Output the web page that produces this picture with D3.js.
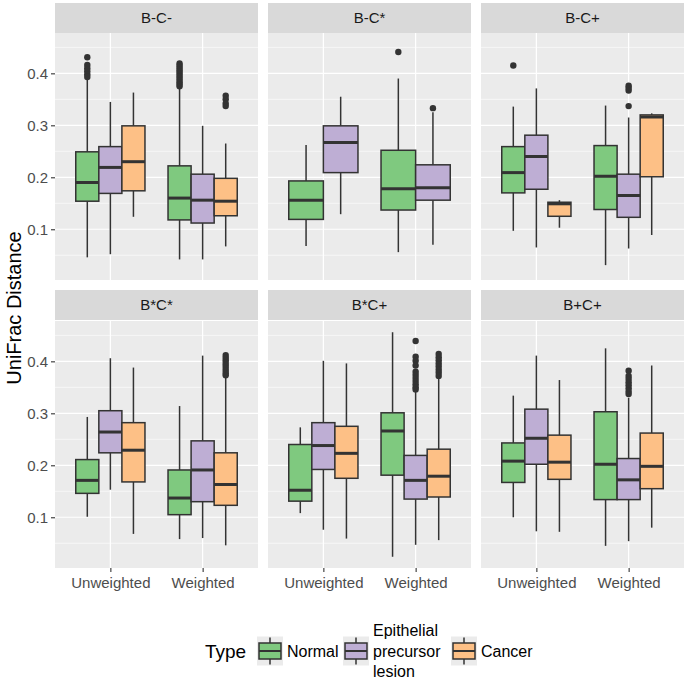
<!DOCTYPE html>
<html><head><meta charset="utf-8">
<script src="https://cdn.jsdelivr.net/npm/d3@7"></script>
<style>body{margin:0;background:#fff}svg{display:block}</style>
</head><body>
<script>
// ---------- data ----------
const panels = ["B-C-", "B-C*", "B-C+", "B*C*", "B*C+", "B+C+"];
const methods = ["Unweighted", "Weighted"];
const types = ["Normal", "Epithelial precursor lesion", "Cancer"];
const typeLegendLines = [["Normal"], ["Epithelial", "precursor", "lesion"], ["Cancer"]];
const typeColors = ["#7FC97F", "#BEAED4", "#FDC086"];
const yTicks = [0.1, 0.2, 0.3, 0.4];
const yMinorTicks = [0.05, 0.15, 0.25, 0.35, 0.45];

// one entry per box
const boxPanel  = [0,0,0,0,0,0, 1,1,1,1, 2,2,2,2,2,2, 3,3,3,3,3,3, 4,4,4,4,4,4, 5,5,5,5,5,5];
const boxMethod = [0,0,0,1,1,1, 0,0,1,1, 0,0,0,1,1,1, 0,0,0,1,1,1, 0,0,0,1,1,1, 0,0,0,1,1,1];
const boxType   = [0,1,2,0,1,2, 0,1,0,1, 0,1,2,0,1,2, 0,1,2,0,1,2, 0,1,2,0,1,2, 0,1,2,0,1,2];
const whiskerLow  = [0.046,0.052,0.124,0.042,0.042,0.067, 0.068,0.129,0.056,0.070, 0.097,0.065,0.103,0.031,0.063,0.089, 0.101,0.153,0.068,0.058,0.060,0.046, 0.108,0.076,0.059,0.024,0.047,0.056, 0.100,0.073,0.072,0.045,0.054,0.080];
const quartile1   = [0.154,0.169,0.174,0.118,0.112,0.126, 0.119,0.209,0.137,0.156, 0.170,0.177,0.125,0.138,0.123,0.201, 0.146,0.224,0.168,0.105,0.130,0.123, 0.131,0.192,0.175,0.181,0.135,0.139, 0.167,0.202,0.173,0.134,0.134,0.155];
const medianVal   = [0.190,0.219,0.230,0.160,0.156,0.154, 0.156,0.267,0.178,0.180, 0.209,0.240,0.149,0.202,0.165,0.316, 0.171,0.264,0.229,0.137,0.191,0.163, 0.152,0.238,0.223,0.266,0.171,0.179, 0.208,0.252,0.206,0.202,0.172,0.198];
const quartile3   = [0.249,0.259,0.299,0.222,0.206,0.198, 0.193,0.299,0.252,0.224, 0.259,0.281,0.152,0.261,0.206,0.320, 0.211,0.305,0.282,0.191,0.247,0.224, 0.240,0.282,0.275,0.301,0.219,0.231, 0.243,0.308,0.258,0.303,0.213,0.262];
const whiskerHigh = [0.390,0.345,0.363,0.373,0.299,0.265, 0.262,0.355,0.390,0.325, 0.336,0.371,0.156,0.338,0.315,0.323, 0.293,0.406,0.388,0.314,0.411,0.372, 0.273,0.401,0.396,0.456,0.343,0.366, 0.334,0.411,0.364,0.425,0.330,0.392];

// outliers: box index and values
const outlierBox = [0, 3, 5, 8, 9, 10, 14, 21, 26, 27, 32];
const outlierValues = [
  [0.431, 0.416, 0.410, 0.404, 0.398, 0.393],
  [0.419, 0.415, 0.411, 0.407, 0.403, 0.399, 0.395, 0.391, 0.387, 0.383, 0.379, 0.375],
  [0.357, 0.350, 0.342, 0.337],
  [0.441],
  [0.333],
  [0.415],
  [0.376, 0.372, 0.367, 0.337],
  [0.412, 0.407, 0.402, 0.397, 0.392, 0.387, 0.382, 0.377, 0.373],
  [0.439, 0.409, 0.401, 0.392, 0.380, 0.374, 0.368, 0.362, 0.356, 0.350, 0.346],
  [0.414, 0.408, 0.402, 0.396, 0.390, 0.384, 0.378, 0.372],
  [0.382, 0.372, 0.366, 0.360, 0.354, 0.348, 0.342, 0.337]
];

// ---------- layout ----------
const W = 685, H = 680;
const colX = [55, 268, 481], panelW = 203;
const stripTop = [3, 290], stripH = 30;
const panelTop = [33, 321], panelH = 247;
const FONT = "'Liberation Sans', Arial, sans-serif";
const INK = "#333333";

const svg = d3.select("body").append("svg").attr("width", W).attr("height", H)
  .style("font-family", FONT);

// shared y domain with 5% expansion
const allVals = whiskerLow.concat(whiskerHigh, outlierValues.flat());
const dMin = d3.min(allVals), dMax = d3.max(allVals), pad = (dMax - dMin) * 0.05;
const yDomain = [dMin - pad, dMax + pad];

panels.forEach((pname, pi) => {
  const col = pi % 3, row = Math.floor(pi / 3);
  const x0 = colX[col], top = panelTop[row];
  const y = d3.scaleLinear().domain(yDomain).range([top + panelH, top]);
  const x = d3.scalePoint().domain(methods).range([x0, x0 + panelW]).padding(0.6);
  const step = x.step();

  const g = svg.append("g");
  // strip
  g.append("rect").attr("x", x0).attr("y", stripTop[row]).attr("width", panelW).attr("height", stripH).attr("fill", "#D9D9D9");
  g.append("text").attr("x", x0 + panelW / 2).attr("y", stripTop[row] + stripH / 2).attr("dy", "0.35em")
    .attr("text-anchor", "middle").attr("font-size", 15).attr("fill", "#1A1A1A").text(pname);
  // panel bg
  g.append("rect").attr("x", x0).attr("y", top).attr("width", panelW).attr("height", panelH).attr("fill", "#EBEBEB");
  // grid
  yMinorTicks.forEach(t => g.append("line").attr("x1", x0).attr("x2", x0 + panelW).attr("y1", y(t)).attr("y2", y(t)).attr("stroke", "#fff").attr("stroke-width", 0.6));
  yTicks.forEach(t => g.append("line").attr("x1", x0).attr("x2", x0 + panelW).attr("y1", y(t)).attr("y2", y(t)).attr("stroke", "#fff").attr("stroke-width", 1.2));
  methods.forEach(m => g.append("line").attr("x1", x(m)).attr("x2", x(m)).attr("y1", top).attr("y2", top + panelH).attr("stroke", "#fff").attr("stroke-width", 1.2));

  // y axis on first column
  if (col === 0) {
    const ax = d3.axisLeft(y).tickValues(yTicks).tickSize(4).tickPadding(3).tickFormat(d3.format(".1f"));
    const ag = g.append("g").attr("transform", `translate(${x0},0)`).call(ax);
    ag.select(".domain").remove();
    ag.selectAll(".tick line").attr("stroke", INK).attr("stroke-width", 1.1);
    ag.selectAll(".tick text").attr("font-size", 15).attr("fill", "#4D4D4D").attr("font-family", FONT);
  }
  // x axis on bottom row
  if (row === 1) {
    const ax = d3.axisBottom(x).tickSize(4).tickPadding(5);
    const ag = g.append("g").attr("transform", `translate(0,${top + panelH})`).call(ax);
    ag.select(".domain").remove();
    ag.selectAll(".tick line").attr("stroke", INK).attr("stroke-width", 1.1);
    ag.selectAll(".tick text").attr("font-size", 15).attr("fill", "#4D4D4D").attr("font-family", FONT);
  }

  // boxes
  methods.forEach((m, mi) => {
    const idx = d3.range(boxPanel.length).filter(i => boxPanel[i] === pi && boxMethod[i] === mi);
    const n = idx.length;
    const total = 0.75 * step, bw = total / n;
    idx.forEach((i, k) => {
      const left = x(m) - total / 2 + k * bw;
      const cx = left + bw / 2;
      const bg = g.append("g");
      bg.append("line").attr("x1", cx).attr("x2", cx).attr("y1", y(whiskerHigh[i])).attr("y2", y(quartile3[i])).attr("stroke", INK).attr("stroke-width", 1.5);
      bg.append("line").attr("x1", cx).attr("x2", cx).attr("y1", y(quartile1[i])).attr("y2", y(whiskerLow[i])).attr("stroke", INK).attr("stroke-width", 1.5);
      bg.append("rect").attr("x", left).attr("y", y(quartile3[i])).attr("width", bw).attr("height", y(quartile1[i]) - y(quartile3[i]))
        .attr("fill", typeColors[boxType[i]]).attr("stroke", INK).attr("stroke-width", 1.5);
      bg.append("line").attr("x1", left).attr("x2", left + bw).attr("y1", y(medianVal[i])).attr("y2", y(medianVal[i])).attr("stroke", INK).attr("stroke-width", 3);
      const oi = outlierBox.indexOf(i);
      if (oi >= 0) {
        outlierValues[oi].forEach(v => bg.append("circle").attr("cx", cx).attr("cy", y(v)).attr("r", 3.2).attr("fill", INK));
      }
    });
  });
});

// y axis title
svg.append("text").attr("transform", "translate(14,308) rotate(-90)").attr("dy", "0.35em")
  .attr("text-anchor", "middle").attr("font-size", 20).attr("fill", "#000").text("UniFrac Distance");

// legend
const legY = 651;
svg.append("text").attr("x", 205).attr("y", legY).attr("dy", "0.35em").attr("font-size", 19).attr("fill", "#000").text("Type");
const keyX = [257, 343, 451], keyW = 26, keyH = 29;
types.forEach((t, ti) => {
  const kx = keyX[ti], ky = legY - keyH / 2;
  const kg = svg.append("g");
  kg.append("rect").attr("x", kx).attr("y", ky).attr("width", keyW).attr("height", keyH).attr("fill", "#EBEBEB");
  const cx = kx + keyW / 2;
  kg.append("line").attr("x1", cx).attr("x2", cx).attr("y1", ky + 1).attr("y2", ky + keyH - 1).attr("stroke", INK).attr("stroke-width", 1.5);
  kg.append("rect").attr("x", kx + 2).attr("y", legY - 8).attr("width", keyW - 4).attr("height", 16)
    .attr("fill", typeColors[ti]).attr("stroke", INK).attr("stroke-width", 1.5);
  kg.append("line").attr("x1", kx + 2).attr("x2", kx + keyW - 2).attr("y1", legY).attr("y2", legY).attr("stroke", INK).attr("stroke-width", 2);
  const lines = typeLegendLines[ti];
  const lh = 20.5;
  const txt = kg.append("text").attr("x", kx + keyW + 4).attr("font-size", 16).attr("fill", "#000");
  lines.forEach((l, li) => {
    txt.append("tspan").attr("x", kx + keyW + 4).attr("y", legY + (li - (lines.length - 1) / 2) * lh).attr("dy", "0.35em").text(l);
  });
});
</script>
</body></html>
